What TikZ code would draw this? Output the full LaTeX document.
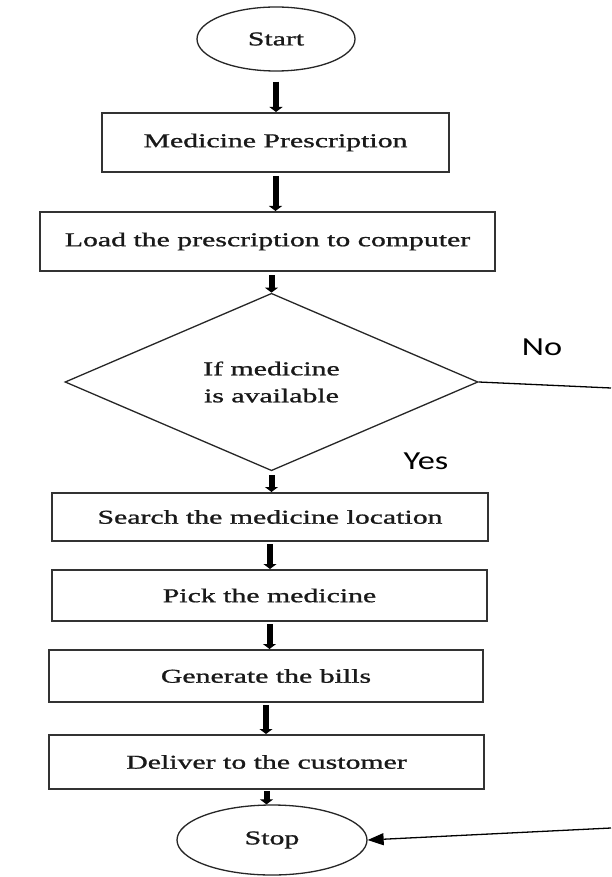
\documentclass[tikz,border=0pt]{standalone}
\usepackage{fontspec}
\setmainfont{Liberation Serif}
\newfontfamily\boxfont{Liberation Serif}[BoldFont={Liberation Serif}, BoldFeatures={FakeBold=0.9}]
\newfontfamily\labelfont{Carlito}
\usepackage{graphicx}
\usetikzlibrary{shapes.geometric,arrows.meta}
\newcommand{\wtxt}[1]{\scalebox{1.52}[1]{#1}}
\newcommand{\wlbl}[1]{\scalebox{1.32}[1]{#1}}
\begin{document}
\begin{tikzpicture}[x=1pt,y=-1pt,
  boxtext/.style={font=\boxfont\bfseries\fontsize{19.6}{27}\selectfont, text=black!90},
  procbox/.style={boxtext, draw=black!80, line width=2pt, rectangle, inner sep=0pt},
  termin/.style={boxtext, draw=black!85, line width=1.3pt, ellipse, inner sep=0pt},
  decis/.style={boxtext, draw=black!85, line width=1.3pt, diamond, inner sep=0pt, align=center},
  flowarrow/.style={line width=6pt, -{Triangle[length=5pt,width=13pt]}},
  sidearrow/.style={line width=1.3pt, -{Triangle[length=16pt,width=12pt]}},
  lbl/.style={font=\labelfont\fontsize{26}{30}\selectfont, inner sep=0pt}]
\useasboundingbox (0,0) rectangle (611,877);
\fill[white] (0,0) rectangle (611,877);

\node[termin, minimum width=158pt, minimum height=64pt] (start) at (276,39) {\wtxt{Start}};
\node[procbox, minimum width=347pt, minimum height=59pt] (mp) at (275.5,142.5) {\wtxt{Medicine Prescription}};
\node[procbox, minimum width=455pt, minimum height=59pt] (load) at (267.5,241.5) {\wtxt{Load the prescription to computer}};
\node[decis, minimum width=413pt, minimum height=152pt] (dec) at (271.5,382) {\wtxt{If medicine}\\\wtxt{is available}};
\node[procbox, minimum width=436pt, minimum height=48pt] (search) at (270,517) {\wtxt{Search the medicine location}};
\node[procbox, minimum width=435pt, minimum height=51pt] (pick) at (269.5,595.5) {\wtxt{Pick the medicine}};
\node[procbox, minimum width=434pt, minimum height=52pt] (gen) at (266,676) {\wtxt{Generate the bills}};
\node[procbox, minimum width=435pt, minimum height=54pt] (deliver) at (266.5,762) {\wtxt{Deliver to the customer}};
\node[termin, minimum width=190pt, minimum height=70pt] (stop) at (272,840) {\wtxt{Stop}};

\node[lbl] (no) at (542,347) {\wlbl{No}};
\node[lbl] (yes) at (426,461) {\wlbl{Yes}};

\coordinate (noend) at (611,388);
\coordinate (backstart) at (611,828);

\draw[flowarrow, shorten <=10pt] (start.south) -- (start.south |- mp.north);
\draw[flowarrow, shorten <=3pt] (mp.south) -- (mp.south |- load.north);
\draw[flowarrow, shorten <=3pt] (load.south -| dec.north) -- (dec.north);
\draw[flowarrow, shorten <=4pt] (dec.south) -- (dec.south |- search.north);
\draw[flowarrow, shorten <=2pt] (search.south) -- (search.south |- pick.north);
\draw[flowarrow, shorten <=2pt] (pick.south) -- (pick.south |- gen.north);
\draw[flowarrow, shorten <=2pt] (gen.south) -- (gen.south |- deliver.north);
\draw[flowarrow, shorten <=1pt] (deliver.south) -- (deliver.south |- stop.north);

\draw[line width=1.3pt] (dec.east) -- (noend);
\draw[sidearrow] (backstart) -- (stop.east);
\end{tikzpicture}
\end{document}
